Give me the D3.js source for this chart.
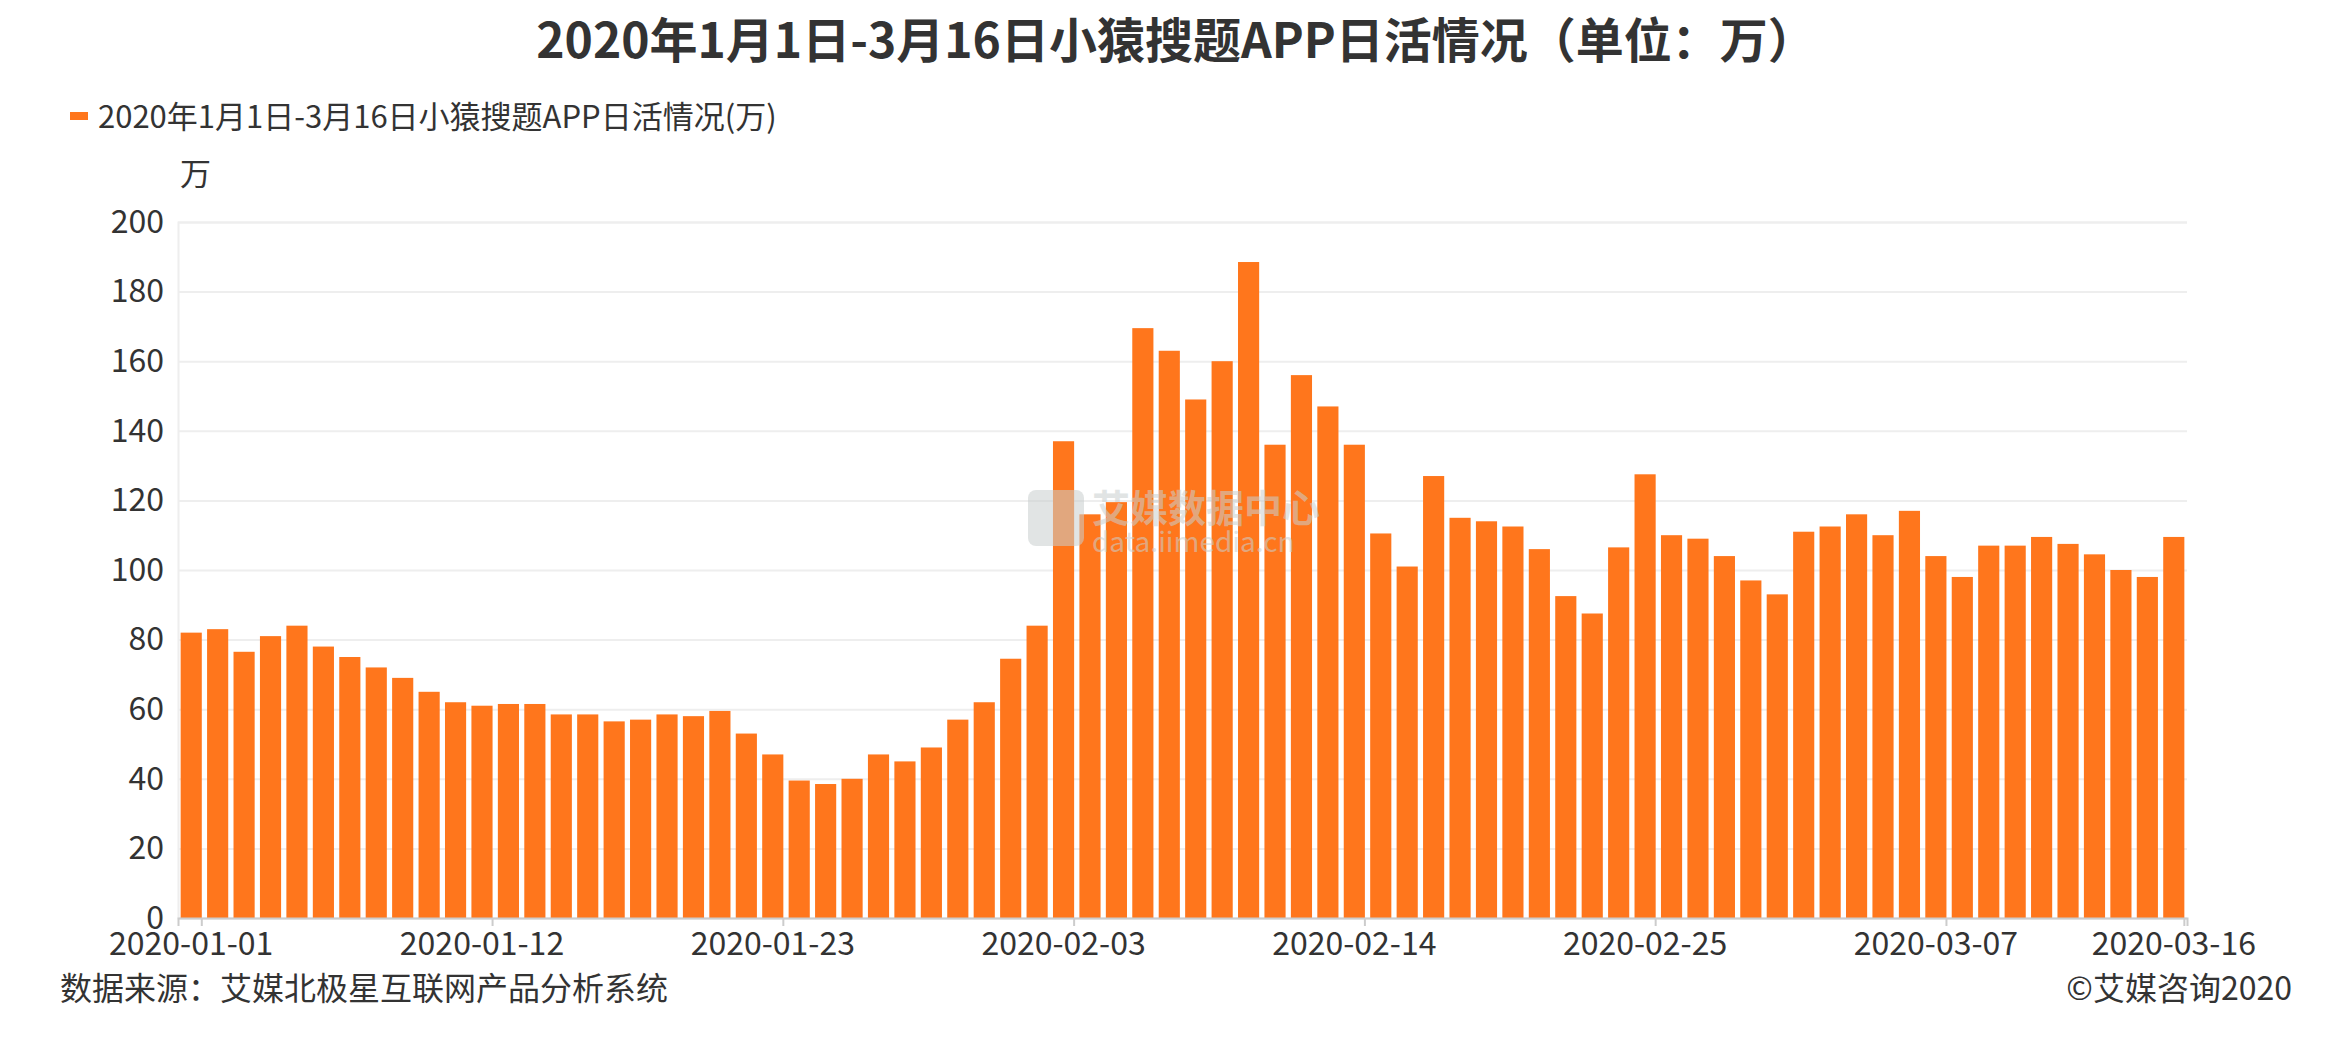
<!DOCTYPE html>
<html><head><meta charset="utf-8">
<script src="https://cdn.jsdelivr.net/npm/d3@7"></script>
<style>body{margin:0;background:#fff}text{font-family:"Noto Sans CJK SC","Noto Sans",sans-serif}</style>
</head><body><svg id="c" width="2352" height="1040"></svg>
<script>
const titleText = "2020年1月1日-3月16日小猿搜题APP日活情况（单位：万）";
const seriesName = "2020年1月1日-3月16日小猿搜题APP日活情况(万)";
const values = [82,83,76.5,81,84,78,75,72,69,65,62,61,61.5,61.5,58.5,58.5,56.5,57,58.5,58,
  59.5,53,47,39.5,38.5,40,47,45,49,57,62,74.5,84,137,116,119.5,169.5,163,149,160,
  188.5,136,156,147,136,110.5,101,127,115,114,112.5,106,92.5,87.5,106.5,127.5,110,109,104,97,
  93,111,112.5,116,110,117,104,98,107,107,109.5,107.5,104.5,100,98,109.5];
const start = new Date(2020, 0, 1);
const dates = values.map((v, i) => d3.timeFormat("%Y-%m-%d")(d3.timeDay.offset(start, i)));
const tickDates = ["2020-01-01","2020-01-12","2020-01-23","2020-02-03","2020-02-14","2020-02-25","2020-03-07","2020-03-16"];
const yTicks = [0,20,40,60,80,100,120,140,160,180,200];

const svg = d3.select("#c");
const m = {left: 178, right: 2187, top: 222, bottom: 918};
const x = d3.scaleBand().domain(dates).range([m.left, m.right]).paddingInner(0.2).paddingOuter(0.1);
const y = d3.scaleLinear().domain([0, 200]).range([m.bottom, m.top]);

svg.append("text").attr("x", 1176).attr("y", 58).attr("text-anchor", "middle")
  .attr("font-size", 48).attr("font-weight", "bold").attr("fill", "#333").text(titleText);
svg.append("rect").attr("x", 70).attr("y", 112).attr("width", 18).attr("height", 8).attr("fill", "#ff761c");
svg.append("text").attr("x", 98).attr("y", 128).attr("font-size", 31).attr("fill", "#333").text(seriesName);
svg.append("text").attr("x", 180).attr("y", 185).attr("font-size", 31).attr("fill", "#333").text("万");

// grid + y axis
svg.append("g").attr("transform", `translate(${m.left},0)`)
  .call(d3.axisLeft(y).tickValues(yTicks).tickSize(-(m.right - m.left)).tickPadding(14))
  .call(g => g.selectAll(".tick line").attr("stroke", "#eee").attr("stroke-width", 2))
  .call(g => g.select(".domain").attr("stroke", "#eee").attr("stroke-width", 2))
  .call(g => g.selectAll("text").attr("font-size", 32).attr("fill", "#333"));

svg.append("g").selectAll("rect").data(values).join("rect")
  .attr("x", (d, i) => x(dates[i])).attr("y", d => y(d))
  .attr("width", x.bandwidth()).attr("height", d => y(0) - y(d)).attr("fill", "#ff761c");

// watermark
const wm = svg.append("g").attr("opacity", 0.55);
wm.append("rect").attr("x", 1028).attr("y", 490).attr("width", 56).attr("height", 56).attr("rx", 8).attr("fill", "#c9cfcf");
wm.append("text").attr("x", 1092).attr("y", 522).attr("font-size", 38).attr("font-weight", "bold")
  .attr("fill", "#c9cfcf").text("艾媒数据中心");
wm.append("text").attr("x", 1092).attr("y", 552).attr("font-size", 28).attr("fill", "#c9cfcf").text("data.iimedia.cn");

svg.append("g").attr("transform", `translate(0,${m.bottom})`)
  .call(d3.axisBottom(x).tickValues(tickDates).tickSize(8).tickPadding(2))
  .call(g => g.select(".domain").attr("stroke", "#ccc").attr("stroke-width", 2))
  .call(g => g.selectAll(".tick line").attr("stroke", "#ccc").attr("stroke-width", 2).attr("transform", `translate(${x.bandwidth()/2},0)`))
  .call(g => g.selectAll(".tick text").attr("font-size", 32).attr("fill", "#333").attr("dy", "0.85em"));

svg.append("text").attr("x", 60).attr("y", 1000).attr("font-size", 32).attr("fill", "#333").text("数据来源：艾媒北极星互联网产品分析系统");
svg.append("text").attr("x", 2292).attr("y", 1000).attr("text-anchor", "end").attr("font-size", 32).attr("fill", "#333").text("©艾媒咨询2020");
</script></body></html>
